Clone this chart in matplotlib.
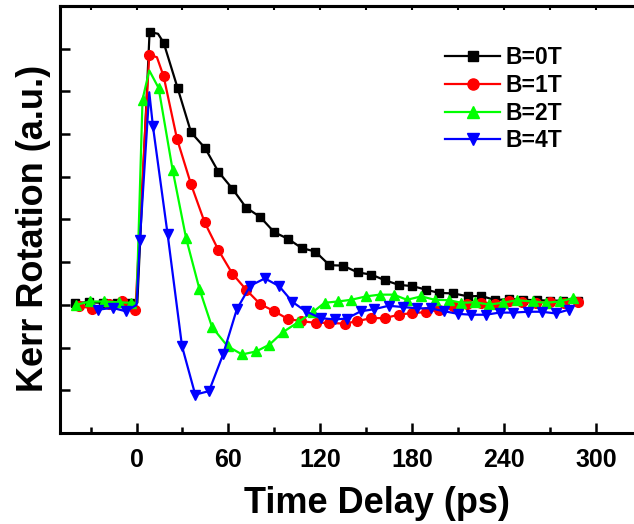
import numpy as np
import matplotlib
matplotlib.use("Agg")
import matplotlib.pyplot as plt
from matplotlib.lines import Line2D
from matplotlib.ticker import MultipleLocator

plt.rcParams['font.family'] = ['Liberation Sans', 'DejaVu Sans']
plt.rcParams['font.weight'] = 'bold'

labels = ["B=0T", "B=1T", "B=2T", "B=4T"]
colors = ["#000000", "#ff0000", "#00ff00", "#0000ff"]
markers = ["s", "o", "^", "v"]

# measured points (drawn with a symbol)
t_0T = [-40, -31, -22, -13, -4, 8.5, 17.7, 26.8, 35.6, 44.8, 53.4, 62.6, 71.5, 80.7, 90.0,
        98.8, 107.9, 116.7, 126.0, 134.8, 144.5, 153.3, 162.0, 171.2, 180.1, 188.8, 197.5,
        206.7, 216.5, 225.2, 234.4, 243.3, 252.5, 261.6, 270.0, 278.6, 288.0]
y_0T = [0.05, 0.06, 0.05, 0.04, 0.05, 6.39, 6.14, 5.08, 4.04, 3.67, 3.12, 2.72, 2.28, 2.06, 1.70,
        1.55, 1.33, 1.25, 0.93, 0.92, 0.76, 0.71, 0.58, 0.47, 0.44, 0.36, 0.28,
        0.27, 0.20, 0.21, 0.11, 0.14, 0.12, 0.11, 0.10, 0.10, 0.08]

t_1T = [-37.5, -28.8, -18.0, -9.6, -0.8, 8.3, 17.7, 26.4, 35.6, 44.5, 53.5, 62.6, 71.7, 80.7,
        90.0, 98.8, 107.5, 116.9, 126.0, 135.8, 144.1, 153.3, 162.0, 171.2, 180.1, 188.8,
        197.5, 206.7, 216.0, 225.0, 234.0, 243.0, 252.0, 261.0, 270.0, 279.0, 288.0]
y_1T = [-0.02, -0.09, 0.03, 0.08, -0.13, 5.86, 5.35, 3.89, 2.82, 1.93, 1.28, 0.73, 0.35, 0.02,
        -0.15, -0.33, -0.38, -0.42, -0.42, -0.44, -0.38, -0.31, -0.31, -0.23, -0.19, -0.17,
        -0.11, -0.02, 0.02, 0.05, 0.03, 0.08, 0.06, 0.05, 0.07, 0.05, 0.06]

t_2T = [-39.7, -30.5, -21.1, -11.3, -3.7, 3.9, 14.4, 23.5, 32.3, 41.0, 49.3, 59.5, 68.9, 78.1,
        86.8, 95.5, 105.3, 115.1, 122.8, 131.5, 140.2, 150.0, 158.7, 167.9, 176.6, 186.0,
        194.7, 204.0, 212.2, 220.9, 230.2, 239.4, 248.5, 258.6, 267.3, 276.4, 285.1]
y_2T = [0.0, 0.08, 0.08, 0.06, 0.05, 4.81, 5.08, 3.17, 1.57, 0.38, -0.52, -0.97, -1.16, -1.09,
        -0.93, -0.64, -0.41, -0.17, 0.05, 0.08, 0.12, 0.20, 0.24, 0.24, 0.12, 0.20,
        0.12, 0.11, 0.05, 0.06, 0.01, 0.05, 0.11, 0.08, 0.05, 0.08, 0.16]

t_4T = [-24.9, -15.7, -6.9, 2.2, 10.7, 20.3, 29.7, 38.3, 47.3, 56.5, 65.5, 74.3, 83.8, 93.1,
        101.8, 110.5, 120.3, 129.3, 137.2, 146.4, 155.3, 164.6, 174.0, 183.2, 192.0, 201.1,
        210.0, 218.7, 228.0, 237.2, 245.9, 255.7, 264.5, 273.8, 282.5]
y_4T = [-0.11, -0.07, -0.15, 1.53, 4.18, 1.65, -0.97, -2.10, -2.02, -1.16, -0.10, 0.45, 0.62, 0.44,
        0.07, -0.15, -0.31, -0.34, -0.32, -0.15, -0.10, -0.02, -0.05, -0.08, -0.08, -0.15,
        -0.21, -0.23, -0.23, -0.18, -0.18, -0.16, -0.16, -0.20, -0.11]

# extra points on the connecting line only (rise and peak, no symbol)
line_extra = [
    ([0.5, 14.0], [0.05, 6.35]),
    ([13.3], [5.80]),
    ([0.0, 8.3], [0.05, 5.49]),
    ([0.0, 8.3], [0.0, 4.98]),
]
series = [(t_0T, y_0T), (t_1T, y_1T), (t_2T, y_2T), (t_4T, y_4T)]

W, H = 634, 524
fig = plt.figure(figsize=(W / 100, H / 100), dpi=100)
# axis runs past the right edge of the picture (cropped like the original)
x0, x1 = -50, 330
px_left, px_zero, px_per = 60, 137.3, 1.529
px_right = px_zero + px_per * x1
ax = fig.add_axes([px_left / W, (H - 433) / H, (px_right - px_left) / W, (433 - 6) / H])

for (t, y), (te, ye), c, m in zip(series, line_extra, colors, markers):
    tt = np.concatenate([t, te])
    yy = np.concatenate([y, ye])
    order = np.argsort(tt)
    marked = [i for i, k in enumerate(order) if k < len(t)]
    ax.plot(tt[order], yy[order], color=c, lw=1.6, marker=m, ms=7 if m != "s" else 6,
            markevery=marked, mec=c, mfc=c)

ax.set_xlim(x0, x1)
ax.set_ylim(-3, 7)
ax.set_xticks(np.arange(0, 301, 60))
ax.xaxis.set_minor_locator(MultipleLocator(30))
ax.set_yticks(np.arange(-2, 7, 1))
ax.set_yticklabels([])
ax.tick_params(axis='x', which='major', direction='in', length=7, width=1.8,
               labelsize=18, pad=11)
ax.tick_params(axis='x', which='minor', direction='in', length=4, width=1.8)
ax.tick_params(axis='y', which='major', direction='in', length=7, width=1.8)
for s in ax.spines.values():
    s.set_linewidth(2.2)

top = ax.secondary_xaxis('top')
top.set_xticks(np.arange(-30, 331, 30))
top.tick_params(direction='in', length=3, width=1.5, labelsize=0)
top.set_xticklabels([])
top.spines['top'].set_linewidth(2.2)

fig.text(377 / W, (H - 513) / H, "Time Delay (ps)", fontsize=26, fontweight='bold',
         ha='center', va='baseline')
fig.text(42.7 / W, (H - 228) / H, "Kerr Rotation (a.u.)", fontsize=26, fontweight='bold',
         rotation=90, rotation_mode='anchor', ha='center', va='baseline')

handles = [Line2D([], [], color=c, lw=1.6, marker=m, ms=8 if m != "s" else 7, mec=c, mfc=c)
           for c, m in zip(colors, markers)]
ax.legend(handles, labels, loc='upper left', bbox_to_anchor=(434 / W, (H - 35) / H),
          bbox_transform=fig.transFigure, frameon=False, borderpad=0,
          handlelength=2.36, handletextpad=0.26, labelspacing=0.2,
          prop={'weight': 'bold', 'size': 16.5})

fig.savefig("out.png", dpi=100)
